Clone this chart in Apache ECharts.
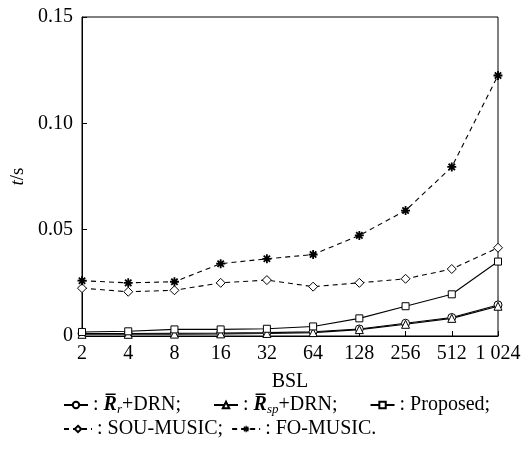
<!DOCTYPE html>
<html>
<head>
<meta charset="utf-8">
<script src="https://cdn.jsdelivr.net/npm/echarts@6/dist/echarts.min.js"></script>
<style>
  html, body { margin: 0; padding: 0; background: #fff; }
  #chart { width: 530px; height: 449px; }
</style>
</head>
<body>
<div id="chart"></div>
<script>
// Block size labels along the x axis
const bsl = ['2', '4', '8', '16', '32', '64', '128', '256', '512', '1 024'];

// Run time t/s of each method
const rrDrn    = [0.0012, 0.0012, 0.0013, 0.0014, 0.0016, 0.0020, 0.0033, 0.0060, 0.0087, 0.0146];
const rspDrn   = [0.0008, 0.0008, 0.0009, 0.0010, 0.0012, 0.0016, 0.0030, 0.0055, 0.0083, 0.0140];
const proposed = [0.0019, 0.0022, 0.0031, 0.0031, 0.0034, 0.0045, 0.0083, 0.0140, 0.0196, 0.0350];
const souMusic = [0.0225, 0.0208, 0.0215, 0.0250, 0.0263, 0.0232, 0.0250, 0.0269, 0.0315, 0.0415];
const foMusic  = [0.0260, 0.0250, 0.0255, 0.0340, 0.0363, 0.0383, 0.0473, 0.0590, 0.0795, 0.1225];

const yTicks = { min: 0, max: 0.15, interval: 0.05 };

const serif = '"Liberation Serif", "Times New Roman", serif';

// asterisk marker built from four crossing bars
const asterisk = 'path://M-5,-1L5,-1L5,1L-5,1Z' +
  'M1,-5L1,5L-1,5L-1,-5Z' +
  'M-2.83,-4.24L4.24,2.83L2.83,4.24L-4.24,-2.83Z' +
  'M4.24,-2.83L-2.83,4.24L-4.24,2.83L2.83,-4.24Z';

function lineSeries(name, data, symbol, size, dashed) {
  return {
    name: name,
    type: 'line',
    data: data,
    symbol: symbol,
    symbolSize: size,
    showSymbol: true,
    lineStyle: { color: '#000', width: 1.1, type: dashed ? [5, 4] : 'solid' },
    itemStyle: {
      color: symbol === asterisk ? '#000' : '#fff',
      borderColor: '#000',
      borderWidth: symbol === asterisk ? 0 : 1
    },
    emphasis: { disabled: true },
    animation: false,
    z: 3
  };
}

const legendText = {
  'Rr': ': {R|R\u0305}{sub|r}+DRN;',
  'Rsp': ': {R|R\u0305}{sub|sp}+DRN;',
  'Proposed': ': Proposed;',
  'SOU-MUSIC': ': SOU-MUSIC;',
  'FO-MUSIC': ': FO-MUSIC.'
};

const legendRich = {
  R: { fontFamily: serif, fontSize: 20, fontWeight: 'bold', fontStyle: 'italic', color: '#000' },
  sub: { fontFamily: serif, fontSize: 13, fontStyle: 'italic', color: '#000', padding: [9, 0, 0, 0] }
};

const chart = echarts.init(document.getElementById('chart'), null, { renderer: 'canvas' });

chart.setOption({
  backgroundColor: '#fff',
  animation: false,
  grid: {
    left: 82, right: 32, top: 17, bottom: 113,
    show: true, borderColor: '#000', borderWidth: 1, backgroundColor: 'transparent'
  },
  legend: [
    {
      data: ['Rr', 'Rsp', 'Proposed'],
      left: 58, top: 390,
      itemWidth: 24, itemHeight: 8, itemGap: 32,
      formatter: n => legendText[n],
      textStyle: { fontFamily: serif, fontSize: 20, color: '#000', rich: legendRich },
      selectedMode: false
    },
    {
      data: ['SOU-MUSIC', 'FO-MUSIC'],
      left: 58, top: 414,
      itemWidth: 28, itemHeight: 8, itemGap: 8,
      formatter: n => legendText[n],
      textStyle: { fontFamily: serif, fontSize: 20, color: '#000' },
      selectedMode: false
    }
  ],
  xAxis: {
    type: 'category',
    data: bsl,
    boundaryGap: false,
    name: 'BSL',
    nameLocation: 'middle',
    nameGap: 36,
    nameTextStyle: { fontFamily: serif, fontSize: 20, color: '#000' },
    axisLine: { lineStyle: { color: '#000', width: 1 } },
    axisTick: { inside: true, length: 5, alignWithLabel: true, lineStyle: { color: '#000' } },
    axisLabel: { fontFamily: serif, fontSize: 20, color: '#000', margin: 8, interval: 0 },
    splitLine: { show: false }
  },
  yAxis: {
    type: 'value',
    min: yTicks.min, max: yTicks.max, interval: yTicks.interval,
    name: '{i|t}/s',
    nameLocation: 'middle',
    nameGap: 48,
    nameRotate: 90,
    nameTextStyle: {
      fontFamily: serif, fontSize: 19, color: '#000',
      rich: { i: { fontFamily: serif, fontSize: 19, fontStyle: 'italic', color: '#000' } }
    },
    axisLine: { show: true, lineStyle: { color: '#000', width: 1 } },
    axisTick: { show: true, inside: true, length: 5, lineStyle: { color: '#000' } },
    axisLabel: {
      fontFamily: serif, fontSize: 20, color: '#000', margin: 9,
      formatter: v => (v === 0 ? '0' : v.toFixed(2))
    },
    splitLine: { show: false }
  },
  series: [
    lineSeries('Rr', rrDrn, 'circle', 8, false),
    lineSeries('Rsp', rspDrn, 'triangle', 8, false),
    lineSeries('Proposed', proposed, 'rect', 7, false),
    lineSeries('SOU-MUSIC', souMusic, 'diamond', 9, true),
    lineSeries('FO-MUSIC', foMusic, asterisk, 9, true)
  ]
});
</script>
</body>
</html>
